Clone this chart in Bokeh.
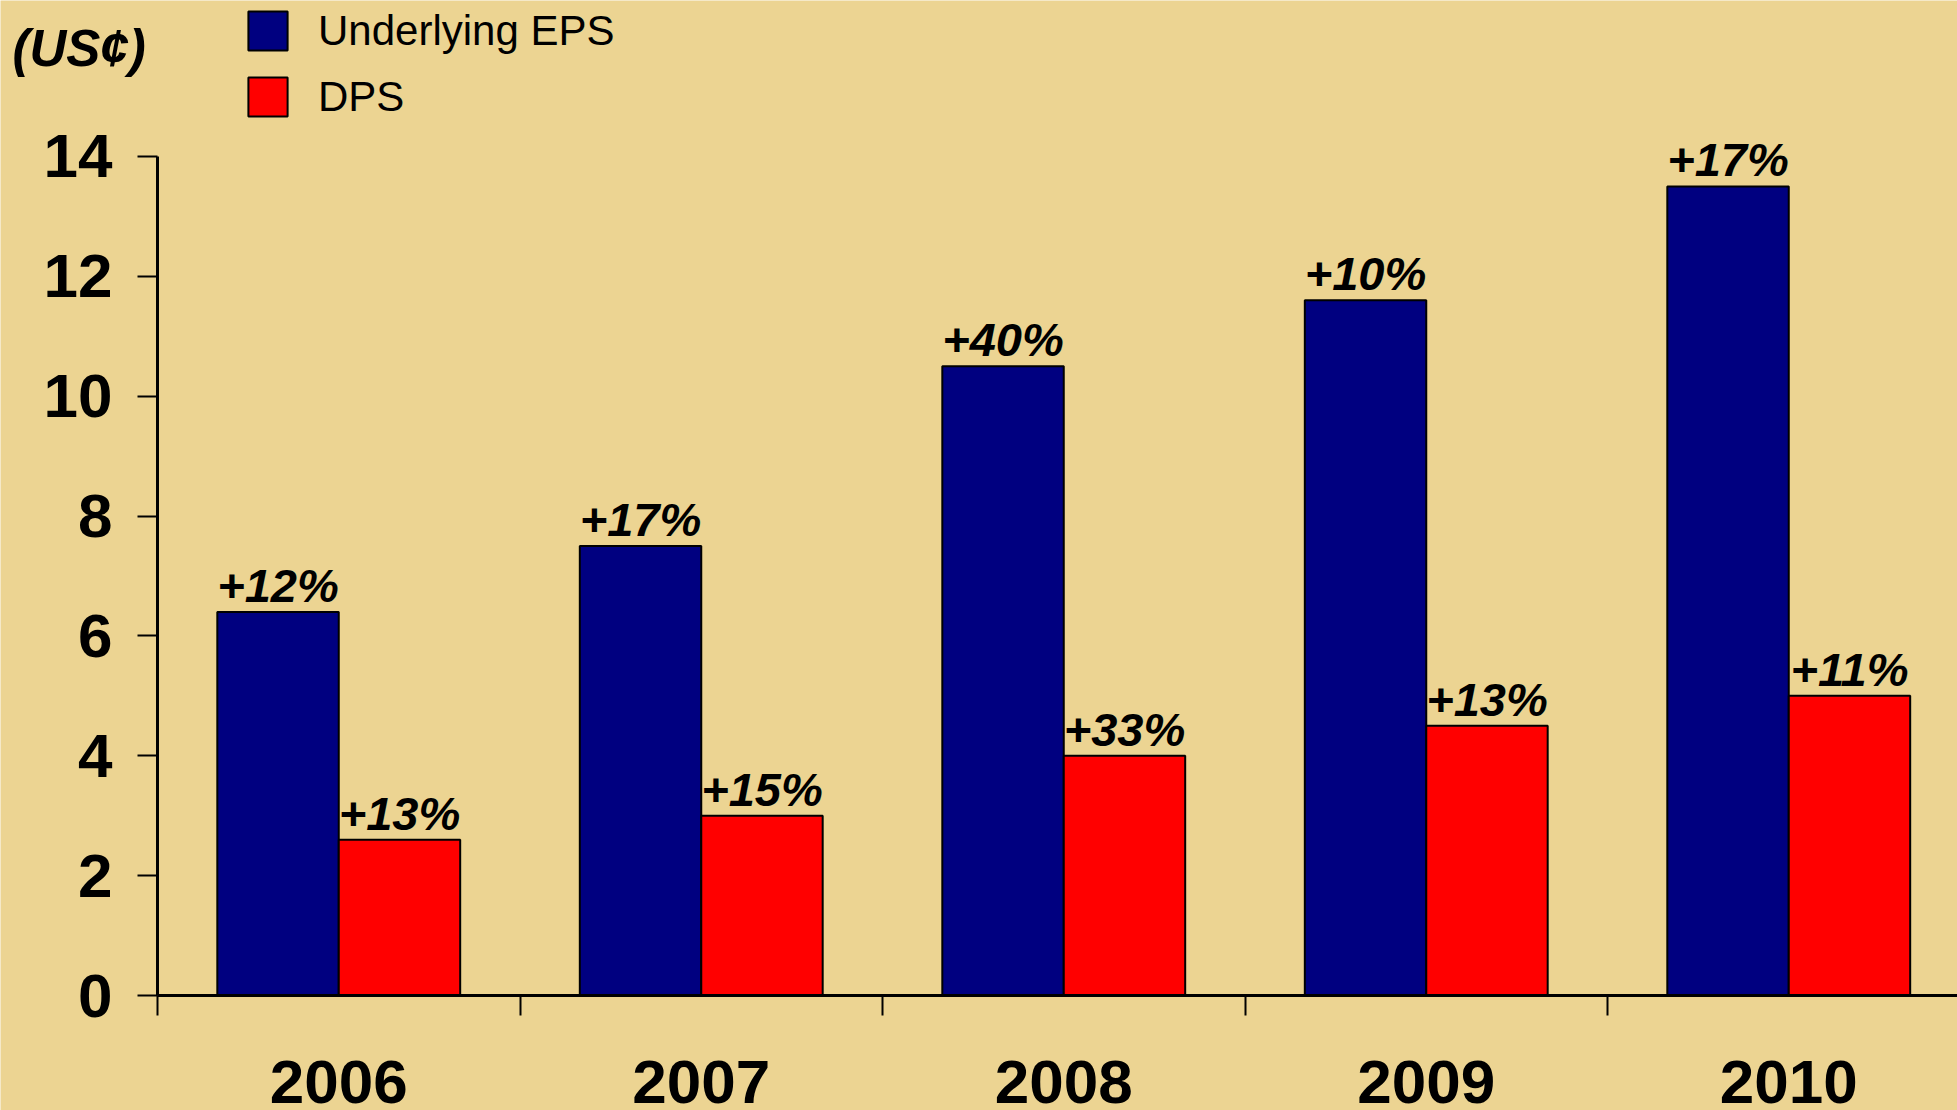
from bokeh.plotting import figure
from bokeh.models import Range1d, FixedTicker, Legend, LegendItem, Label, ColumnDataSource
from bokeh.transform import dodge
from bokeh.core.properties import value
from bokeh.embed import file_html
from bokeh.resources import INLINE

# ---- data ----
years = ["2006", "2007", "2008", "2009", "2010"]
eps = [6.4, 7.5, 10.5, 11.6, 13.5]
dps = [2.6, 3.0, 4.0, 4.5, 5.0]
eps_growth = ["+12%", "+17%", "+40%", "+10%", "+17%"]
dps_growth = ["+13%", "+15%", "+33%", "+13%", "+11%"]
y_ticks = [0, 2, 4, 6, 8, 10, 12, 14]

BG = "#ECD492"
FONT = "Liberation Sans"
W = 0.335
PX_X = 362.5   # px per category
PX_Y = 59.93   # px per unit

idx = [i + 0.5 for i in range(len(years))]
src = ColumnDataSource(dict(x=idx, eps=eps, dps=dps, eg=eps_growth, dg=dps_growth))

p = figure(width=1957, height=1110, output_backend="svg", toolbar_location=None,
           x_range=Range1d(-157 / PX_X, (1957 - 157) / PX_X),
           y_range=Range1d(-(1110 - 995) / PX_Y, 995 / PX_Y),
           min_border=0, min_border_left=0, min_border_right=0,
           min_border_top=0, min_border_bottom=0,
           background_fill_color=BG, border_fill_color=BG, outline_line_color=None)
p.title.visible = False

r1 = p.vbar(x=dodge('x', -W / 2), top='eps', width=W, source=src,
            fill_color="#000080", line_color="black", line_width=2)
r2 = p.vbar(x=dodge('x', W / 2), top='dps', width=W, source=src,
            fill_color="#FF0000", line_color="black", line_width=2)

for xo, col, lab in [(-W / 2, 'eps', 'eg'), (W / 2, 'dps', 'dg')]:
    p.text(x=dodge('x', xo), y=col, text=lab, source=src,
           text_font=value(FONT), text_font_style="bold italic", text_font_size="47px",
           text_align="center", text_baseline="bottom", y_offset=0, text_color="black")

p.xgrid.visible = False
p.ygrid.visible = False

xa = p.xaxis[0]
xa.fixed_location = 0
xa.bounds = (0, len(years))
xa.ticker = FixedTicker(ticks=idx, minor_ticks=list(range(len(years) + 1)))
xa.major_label_overrides = {x: y for x, y in zip(idx, years)}
xa.major_tick_line_color = None
xa.major_tick_out = 0
xa.major_tick_in = 0
xa.minor_tick_out = 20
xa.minor_tick_in = 0
xa.minor_tick_line_width = 2
xa.minor_tick_line_color = "black"
xa.axis_line_width = 3
xa.major_label_standoff = 45
xa.major_label_text_font = FONT
xa.major_label_text_font_style = "bold"
xa.major_label_text_font_size = "62px"
xa.major_label_text_color = "black"

ya = p.yaxis[0]
ya.fixed_location = 0
ya.ticker = FixedTicker(ticks=y_ticks, minor_ticks=[])
ya.bounds = (0, 14)
ya.major_tick_out = 20
ya.major_tick_in = 0
ya.major_tick_line_width = 2
ya.minor_tick_line_color = None
ya.axis_line_width = 3
ya.major_label_standoff = 25
ya.major_label_text_font = FONT
ya.major_label_text_font_style = "bold"
ya.major_label_text_font_size = "62px"
ya.major_label_text_color = "black"

legend = Legend(items=[LegendItem(label="Underlying EPS", renderers=[r1]),
                       LegendItem(label="DPS", renderers=[r2])],
                location=(243, 989), glyph_width=49, glyph_height=49, label_height=49,
                spacing=17, padding=0, margin=0, label_standoff=26,
                border_line_color=None, background_fill_alpha=0,
                label_text_font=FONT, label_text_font_size="42px", label_text_color="black")
p.add_layout(legend)

p.add_layout(Label(x=-0.4, y=15.32, text="(US¢)", text_font=FONT,
                   text_font_style="bold italic", text_font_size="51px",
                   text_baseline="bottom", text_color="black"))

html = file_html(p, INLINE)
html = html.replace("<body>", f'<body style="margin:0;padding:0;overflow:hidden;background-color:{BG};">', 1)
open("out.html", "w").write(html)
